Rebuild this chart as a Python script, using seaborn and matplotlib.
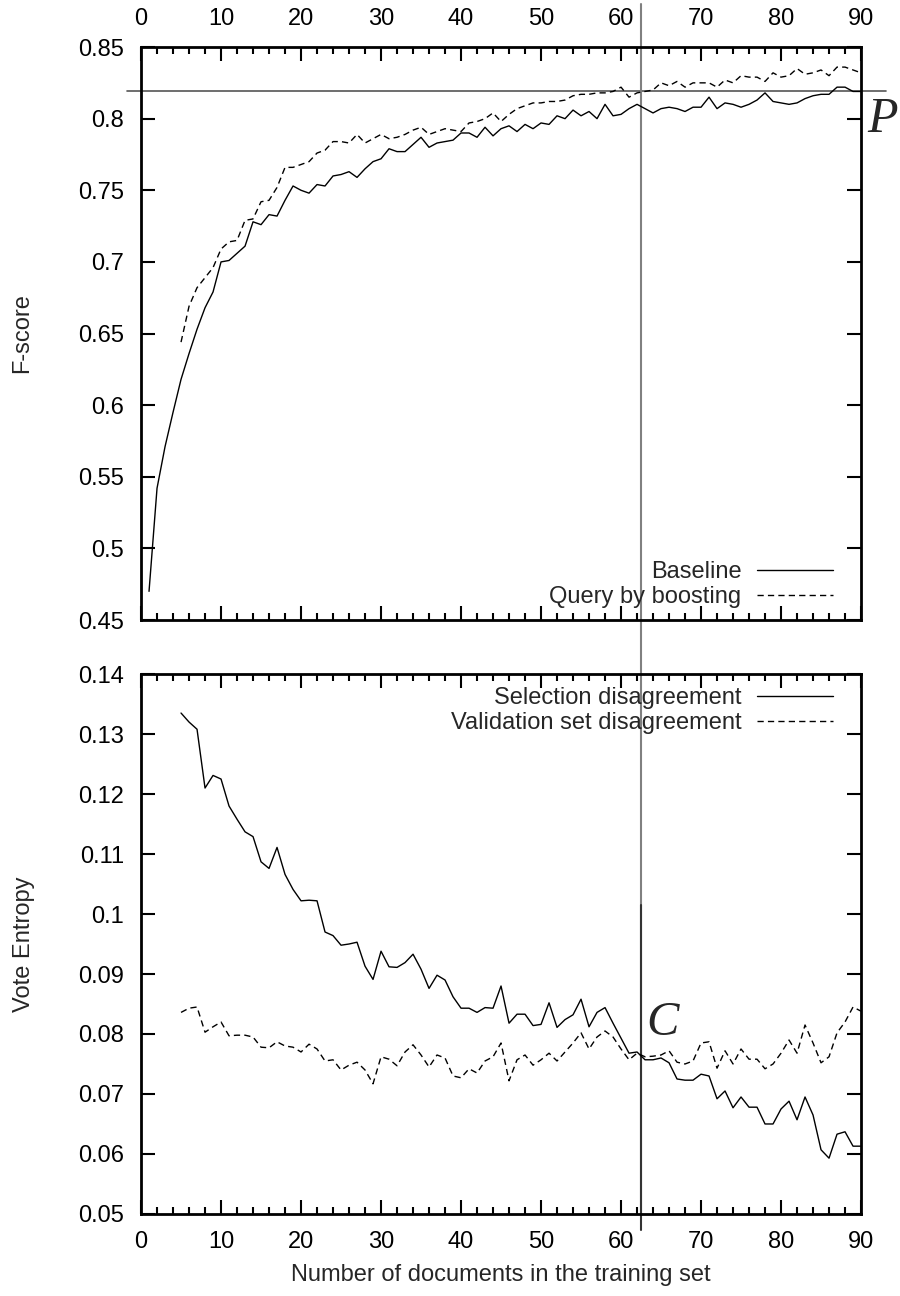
import numpy as np
import pandas as pd
import seaborn as sns
import matplotlib.pyplot as plt
from matplotlib.ticker import MultipleLocator, FormatStrFormatter

# ---- data ----
docs_baseline = list(range(1, 91))
f_baseline = [
    0.470, 0.542, 0.571, 0.595, 0.618, 0.636, 0.653, 0.668, 0.679, 0.700,
    0.701, 0.706, 0.711, 0.728, 0.726, 0.733, 0.732, 0.743, 0.753, 0.750,
    0.748, 0.754, 0.753, 0.760, 0.761, 0.763, 0.759, 0.765, 0.770, 0.772,
    0.779, 0.777, 0.777, 0.782, 0.787, 0.780, 0.783, 0.784, 0.785, 0.790,
    0.790, 0.787, 0.794, 0.788, 0.793, 0.795, 0.791, 0.796, 0.793, 0.797,
    0.796, 0.802, 0.800, 0.806, 0.802, 0.805, 0.800, 0.810, 0.802, 0.803,
    0.807, 0.810, 0.807, 0.804, 0.807, 0.808, 0.807, 0.805, 0.808, 0.808,
    0.815, 0.807, 0.811, 0.810, 0.808, 0.810, 0.813, 0.818, 0.812, 0.811,
    0.810, 0.811, 0.814, 0.816, 0.817, 0.817, 0.822, 0.822, 0.819, 0.819,
]
docs_qbb = list(range(5, 91))
f_qbb = [
    0.644, 0.669, 0.682, 0.689, 0.696, 0.709, 0.714, 0.715, 0.729, 0.730,
    0.742, 0.743, 0.752, 0.766, 0.766, 0.768, 0.770, 0.776, 0.778, 0.784,
    0.784, 0.783, 0.789, 0.783, 0.786, 0.789, 0.786, 0.787, 0.789, 0.792,
    0.794, 0.789, 0.791, 0.793, 0.792, 0.791, 0.797, 0.798, 0.800, 0.804,
    0.798, 0.803, 0.807, 0.809, 0.811, 0.811, 0.812, 0.812, 0.813, 0.816,
    0.817, 0.817, 0.818, 0.818, 0.819, 0.822, 0.815, 0.818, 0.819, 0.820,
    0.825, 0.823, 0.826, 0.822, 0.825, 0.825, 0.825, 0.822, 0.827, 0.825,
    0.830, 0.829, 0.829, 0.826, 0.832, 0.829, 0.830, 0.835, 0.831, 0.832,
    0.834, 0.830, 0.836, 0.836, 0.834, 0.832,
]
docs_entropy = list(range(5, 91))
selection_disagreement = [
    0.1335, 0.1320, 0.1308, 0.1210, 0.1231, 0.1225, 0.1180, 0.1158, 0.1137, 0.1129,
    0.1087, 0.1076, 0.1111, 0.1066, 0.1041, 0.1022, 0.1023, 0.1022, 0.0970, 0.0964,
    0.0948, 0.0950, 0.0953, 0.0913, 0.0891, 0.0938, 0.0912, 0.0911, 0.0919, 0.0933,
    0.0908, 0.0876, 0.0898, 0.0890, 0.0862, 0.0843, 0.0843, 0.0836, 0.0844, 0.0843,
    0.0880, 0.0818, 0.0833, 0.0833, 0.0814, 0.0816, 0.0852, 0.0811, 0.0824, 0.0832,
    0.0858, 0.0812, 0.0836, 0.0844, 0.0818, 0.0793, 0.0768, 0.0770, 0.0757, 0.0757,
    0.0760, 0.0752, 0.0725, 0.0723, 0.0723, 0.0733, 0.0730, 0.0692, 0.0705, 0.0677,
    0.0695, 0.0678, 0.0678, 0.0650, 0.0650, 0.0675, 0.0688, 0.0657, 0.0695, 0.0665,
    0.0607, 0.0593, 0.0633, 0.0637, 0.0613, 0.0613,
]
validation_disagreement = [
    0.0836, 0.0843, 0.0845, 0.0803, 0.0812, 0.0820, 0.0797, 0.0798, 0.0798, 0.0795,
    0.0778, 0.0777, 0.0787, 0.0780, 0.0778, 0.0770, 0.0783, 0.0775, 0.0755, 0.0757,
    0.0740, 0.0748, 0.0753, 0.0740, 0.0717, 0.0762, 0.0758, 0.0747, 0.0770, 0.0782,
    0.0765, 0.0745, 0.0765, 0.0760, 0.0730, 0.0727, 0.0742, 0.0735, 0.0755, 0.0762,
    0.0785, 0.0722, 0.0757, 0.0765, 0.0748, 0.0757, 0.0768, 0.0755, 0.0770, 0.0785,
    0.0802, 0.0775, 0.0795, 0.0805, 0.0795, 0.0775, 0.0757, 0.0768, 0.0762, 0.0763,
    0.0765, 0.0772, 0.0753, 0.0750, 0.0755, 0.0785, 0.0787, 0.0743, 0.0772, 0.0750,
    0.0775, 0.0758, 0.0758, 0.0742, 0.0750, 0.0768, 0.0790, 0.0768, 0.0815, 0.0785,
    0.0752, 0.0762, 0.0802, 0.0820, 0.0845, 0.0838,
]
p_level = 0.819        # horizontal reference line "P"
c_docs = 62.5          # vertical reference line "C"
c_entropy_top = 0.1015 # top of the dark part of the C line

df_f = pd.concat([
    pd.DataFrame({"docs": docs_baseline, "score": f_baseline, "series": "Baseline"}),
    pd.DataFrame({"docs": docs_qbb, "score": f_qbb, "series": "Query by boosting"}),
])
df_e = pd.concat([
    pd.DataFrame({"docs": docs_entropy, "entropy": selection_disagreement,
                  "series": "Selection disagreement"}),
    pd.DataFrame({"docs": docs_entropy, "entropy": validation_disagreement,
                  "series": "Validation set disagreement"}),
])

sns.set_theme(style="ticks")
plt.rcParams["font.family"] = ["Liberation Sans", "DejaVu Sans"]
FS = 17
DASH = (4.5, 3)

fig = plt.figure(figsize=(9, 12.96), dpi=100)
ax1 = fig.add_axes([0.1567, 0.5216, 0.8, 0.4421])
ax2 = fig.add_axes([0.1567, 0.0633, 0.8, 0.4166])

sns.lineplot(data=df_f, x="docs", y="score", style="series",
             dashes={"Baseline": "", "Query by boosting": DASH},
             color="black", linewidth=1.0, ax=ax1)
sns.lineplot(data=df_e, x="docs", y="entropy", style="series",
             dashes={"Selection disagreement": "", "Validation set disagreement": DASH},
             color="black", linewidth=1.0, ax=ax2)

for ax in (ax1, ax2):
    ax.set_xlim(0, 90)
    ax.xaxis.set_major_locator(MultipleLocator(10))
    ax.xaxis.set_minor_locator(MultipleLocator(2))
    ax.yaxis.set_major_formatter(FormatStrFormatter("%g"))
    ax.tick_params(which="both", direction="in", top=True, right=True,
                   width=1.5, colors="black", labelsize=FS, pad=12)
    ax.tick_params(which="major", length=10)
    ax.tick_params(which="minor", length=5)
    ax.tick_params(axis="y", which="minor", left=False, right=False)
    for s in ax.spines.values():
        s.set_linewidth(2)
        s.set_color("black")
    leg = ax.legend(markerfirst=False, frameon=False, fontsize=FS,
                    handlelength=3.2, handletextpad=0.68, labelspacing=0.12,
                    borderpad=0, borderaxespad=0, loc="center right")
    for line in leg.get_lines():
        line.set_linewidth(1.0)

ax1.set_ylim(0.45, 0.85)
ax1.yaxis.set_major_locator(MultipleLocator(0.05))
ax1.tick_params(axis="x", labeltop=True, labelbottom=False)
ax1.set_xlabel("")
ax1.set_ylabel("F-score", fontsize=FS, labelpad=32.5)
ax1.legend_.set_bbox_to_anchor((0.961, 0.062), transform=ax1.transAxes)

ax2.set_ylim(0.05, 0.14)
ax2.yaxis.set_major_locator(MultipleLocator(0.01))
ax2.set_xlabel("Number of documents in the training set", fontsize=FS, labelpad=8)
ax2.set_ylabel("Vote Entropy", fontsize=FS, labelpad=31)
ax2.legend_.set_bbox_to_anchor((0.961, 0.932), transform=ax2.transAxes)

# reference lines P and C
ax1.axhline(p_level, xmin=-0.02, xmax=1.035, color="#555555", linewidth=1.2,
            clip_on=False, zorder=1)
ax1.axvline(c_docs, ymin=-0.095, ymax=1.075, color="#808080", linewidth=1.5,
            clip_on=False, zorder=1)
ax2.axvline(c_docs, ymin=0, ymax=1.0, color="#808080", linewidth=1.5,
            clip_on=False, zorder=1)
ax2.axvline(c_docs, ymin=-0.03, ymax=(c_entropy_top - 0.05) / 0.09,
            color="#333333", linewidth=1.5, clip_on=False, zorder=1)

ax1.text(1.008, 0.799, "P", transform=ax1.get_yaxis_transform(),
         fontsize=36, fontstyle="italic", family=["Liberation Serif", "DejaVu Serif"],
         ha="left", va="center")
ax2.text(c_docs + 0.7, 0.0818, "C", fontsize=35, fontstyle="italic",
         family=["Liberation Serif", "DejaVu Serif"], ha="left", va="center")

fig.savefig("out.png", dpi=100, facecolor="white")
